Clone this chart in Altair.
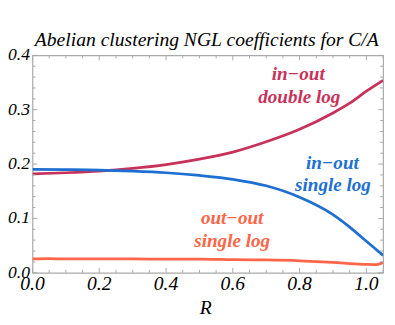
import altair as alt
import pandas as pd
import numpy as np

# ---- data ----
R_grid = [0.0, 0.1, 0.2, 0.3, 0.4, 0.5, 0.6, 0.7, 0.8, 0.9, 0.95, 1.0, 1.05]
inout_double = [0.182, 0.184, 0.187, 0.192, 0.199, 0.209, 0.222, 0.241, 0.264, 0.294, 0.312, 0.334, 0.354]
inout_single = [0.190, 0.1897, 0.189, 0.187, 0.184, 0.179, 0.172, 0.160, 0.139, 0.107, 0.084, 0.058, 0.032]
R_oo = [0.0, 0.05, 0.1, 0.2, 0.3, 0.4, 0.5, 0.6, 0.7, 0.8, 0.9, 0.95, 1.0, 1.03, 1.05]
outout_single = [0.0255, 0.026, 0.0255, 0.0255, 0.0255, 0.025, 0.025, 0.024, 0.0235, 0.022, 0.019, 0.017, 0.0155, 0.015, 0.019]

series_names = ["in-out double log", "in-out single log", "out-out single log"]
series_colors = ["#C8325A", "#1E6FD2", "#FF6548"]

label_text = ["in\u2212out", "double log", "in\u2212out", "single log", "out\u2212out", "single log"]
label_series = [series_names[0], series_names[0], series_names[1], series_names[1], series_names[2], series_names[2]]
label_R = [0.796, 0.799, 0.898, 0.900, 0.598, 0.598]
label_v = [0.354, 0.312, 0.191, 0.150, 0.090, 0.048]

title_text = "Abelian clustering NGL coefficients for C/A"
x_title = "R"

x_major = [0.0, 0.2, 0.4, 0.6, 0.8, 1.0]
x_minor = [round(0.05 * i, 2) for i in range(1, 22) if i % 4 != 0]
y_major = [0.0, 0.1, 0.2, 0.3, 0.4]
y_minor = [round(0.02 * i, 2) for i in range(1, 20) if i % 5 != 0]

X_DOMAIN = [0, 1.05]
Y_DOMAIN = [0, 0.4]
W, H = 358, 222
FONT = "Liberation Serif"
FRAME = "#a9a9a9"

rows = []
for r, v in zip(R_grid, inout_double):
    rows.append({"R": r, "v": v, "s": series_names[0]})
for r, v in zip(R_grid, inout_single):
    rows.append({"R": r, "v": v, "s": series_names[1]})
for r, v in zip(R_oo, outout_single):
    rows.append({"R": r, "v": v, "s": series_names[2]})
lines_df = pd.DataFrame(rows)

labels_df = pd.DataFrame({"R": label_R, "v": label_v, "s": label_series, "t": label_text})

xscale = alt.Scale(domain=X_DOMAIN, nice=False, zero=False)
yscale = alt.Scale(domain=Y_DOMAIN, nice=False, zero=False)
cscale = alt.Scale(domain=series_names, range=series_colors)

lines = alt.Chart(lines_df).mark_line(strokeWidth=2.8, interpolate="monotone", clip=True).encode(
    x=alt.X("R:Q", scale=xscale, axis=None),
    y=alt.Y("v:Q", scale=yscale, axis=None),
    color=alt.Color("s:N", scale=cscale, legend=None),
    detail="s:N",
)

texts = alt.Chart(labels_df).mark_text(font=FONT, fontStyle="italic", fontWeight="bold", fontSize=19.5,
                                       align="center", baseline="alphabetic").encode(
    x=alt.X("R:Q", scale=xscale, axis=None),
    y=alt.Y("v:Q", scale=yscale, axis=None),
    text="t:N",
    color=alt.Color("s:N", scale=cscale, legend=None),
)

title = alt.Chart(pd.DataFrame({"t": [title_text]})).mark_text(
    font=FONT, fontStyle="italic", fontSize=20, color="black", align="center", baseline="alphabetic"
).encode(x=alt.value(W / 2 - 1), y=alt.value(-10), text="t:N")

xlab_title = alt.Chart(pd.DataFrame({"t": [x_title]})).mark_text(
    font=FONT, fontStyle="italic", fontSize=20, color="black", align="center", baseline="alphabetic"
).encode(x=alt.value(W / 2 - 2), y=alt.value(H + 42), text="t:N")

x_labels = alt.Chart(pd.DataFrame({"t": x_major})).mark_text(
    font=FONT, fontStyle="italic", fontSize=20, color="black", align="center", baseline="alphabetic"
).encode(x=alt.X("t:Q", scale=xscale, axis=None), y=alt.value(H + 18), text=alt.Text("t:Q", format=".1f"))

y_labels = alt.Chart(pd.DataFrame({"t": y_major})).mark_text(
    font=FONT, fontStyle="italic", fontSize=18, color="black", align="right", baseline="middle", dx=-2.5
).encode(y=alt.Y("t:Q", scale=yscale, axis=None), x=alt.value(0), text=alt.Text("t:Q", format=".1f"))

def xticks(vals, length):
    df = pd.DataFrame({"t": vals})
    base = alt.Chart(df).mark_rule(color=FRAME, strokeWidth=1)
    bottom = base.encode(x=alt.X("t:Q", scale=xscale, axis=None), y=alt.value(H), y2=alt.value(H - length))
    top = base.encode(x=alt.X("t:Q", scale=xscale, axis=None), y=alt.value(0), y2=alt.value(length))
    return [bottom, top]

def yticks(vals, length):
    df = pd.DataFrame({"t": vals})
    base = alt.Chart(df).mark_rule(color=FRAME, strokeWidth=1)
    left = base.encode(y=alt.Y("t:Q", scale=yscale, axis=None), x=alt.value(0), x2=alt.value(length))
    right = base.encode(y=alt.Y("t:Q", scale=yscale, axis=None), x=alt.value(W), x2=alt.value(W - length))
    return [left, right]

layers = ([lines, texts, title, xlab_title, x_labels, y_labels]
          + xticks(x_major, 5) + xticks(x_minor, 3) + yticks(y_major, 5) + yticks(y_minor, 3))

chart = alt.layer(*layers).properties(
    width=W, height=H,
    autosize=alt.AutoSizeParams(type="none"),
    padding={"left": 25, "top": 45, "right": 4, "bottom": 50},
).configure_view(stroke=FRAME, strokeWidth=1.2)

chart.save("out.html", embed_options={"renderer": "svg", "actions": False})
